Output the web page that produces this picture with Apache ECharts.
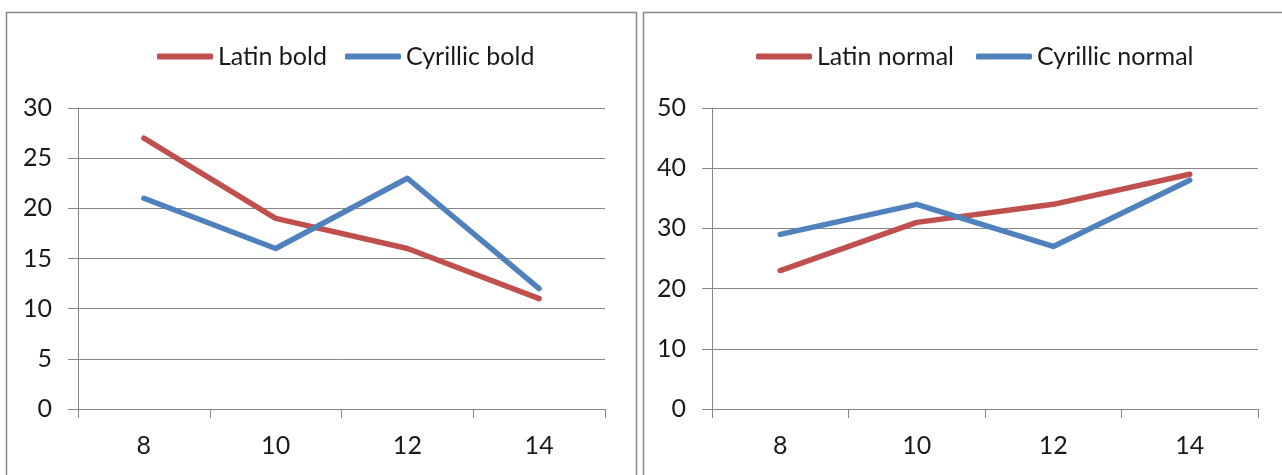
<!DOCTYPE html>
<html>
<head>
<meta charset="utf-8">
<script src="https://cdn.jsdelivr.net/npm/echarts@6/dist/echarts.min.js"></script>
<style>
html,body{margin:0;padding:0;background:#fff;}
#chart{width:1282px;height:475px;}
</style>
</head>
<body>
<div id="chart"></div>
<script>
const categories = ['8', '10', '12', '14'];
const latinBold = [27, 19, 16, 11];
const cyrillicBold = [21, 16, 23, 12];
const latinNormal = [23, 31, 34, 39];
const cyrillicNormal = [29, 34, 27, 38];

const RED = '#C0504D';
const BLUE = '#4F81BD';
const GRID = '#868686';
const FONT = 'Lato';

const chart = echarts.init(document.getElementById('chart'));

function xAxis(gi) {
  return {
    type: 'category', gridIndex: gi, data: categories, boundaryGap: true,
    axisLine: {show: true, lineStyle: {color: GRID, width: 1}},
    axisTick: {show: true, interval: 0, length: 9, lineStyle: {color: GRID}},
    axisLabel: {color: '#1a1a1a', fontFamily: FONT, fontSize: 25, margin: 24}
  };
}
function yAxis(gi, max, interval) {
  return {
    type: 'value', gridIndex: gi, min: 0, max: max, interval: interval,
    axisLine: {show: true, lineStyle: {color: GRID, width: 1}},
    axisTick: {show: true, length: 10, lineStyle: {color: GRID}},
    splitLine: {show: true, lineStyle: {color: GRID, width: 1}},
    axisLabel: {color: '#1a1a1a', fontFamily: FONT, fontSize: 25, margin: 26}
  };
}
function series(name, data, color, gi) {
  return {
    name: name, type: 'line', xAxisIndex: gi, yAxisIndex: gi, data: data,
    showSymbol: false, symbol: 'none', lineStyle: {color: color, width: 5.5, cap: 'round', join: 'round'},
    itemStyle: {color: color}, animation: false
  };
}
const legendBase = {
  icon: 'roundRect', itemWidth: 56, itemHeight: 6,
  textStyle: {fontFamily: FONT, fontSize: 25, color: '#1a1a1a'},
  top: 39
};

chart.setOption({
  backgroundColor: '#fff',
  animation: false,
  graphic: [
    {type: 'rect', shape: {x: 6.5, y: 12.5, width: 630, height: 480}, style: {fill: 'none', stroke: '#8a8a8a', lineWidth: 1.5}, silent: true},
    {type: 'rect', shape: {x: 643.5, y: 12.5, width: 660, height: 480}, style: {fill: 'none', stroke: '#8a8a8a', lineWidth: 1.5}, silent: true}
  ],
  legend: [
    Object.assign({}, legendBase, {data: ['Latin bold', 'Cyrillic bold'], left: 152, itemGap: 18}),
    Object.assign({}, legendBase, {data: ['Latin normal', 'Cyrillic normal'], left: 751, itemGap: 22})
  ],
  grid: [
    {left: 78, right: 677, top: 108, bottom: 66},
    {left: 712, right: 24, top: 108, bottom: 66}
  ],
  xAxis: [xAxis(0), xAxis(1)],
  yAxis: [yAxis(0, 30, 5), yAxis(1, 50, 10)],
  series: [
    series('Latin bold', latinBold, RED, 0),
    series('Cyrillic bold', cyrillicBold, BLUE, 0),
    series('Latin normal', latinNormal, RED, 1),
    series('Cyrillic normal', cyrillicNormal, BLUE, 1)
  ]
});
</script>
</body>
</html>
